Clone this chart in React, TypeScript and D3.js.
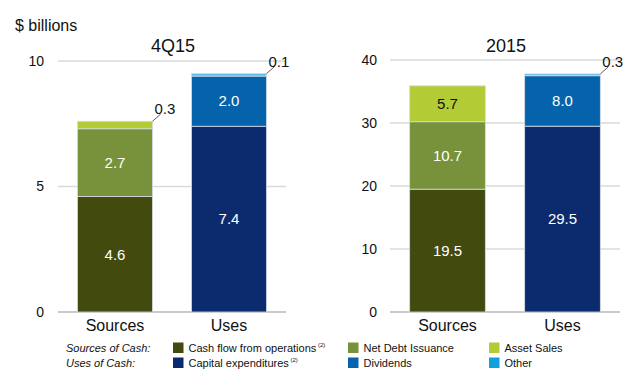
import React from "react";
import * as d3 from "d3";

const barCategories = ["Sources", "Uses"];
const sourceNames = ["Cash flow from operations", "Net Debt Issuance", "Asset Sales"];
const useNames = ["Capital expenditures", "Dividends", "Other"];
const sourceColors = ["#434a0e", "#77923a", "#b3cb35"];
const useColors = ["#0c2b6e", "#0563ac", "#10a0dc"];
const q4Sources = [4.6, 2.7, 0.3];
const q4Uses = [7.4, 2.0, 0.1];
const fySources = [19.5, 10.7, 5.7];
const fyUses = [29.5, 8.0, 0.3];
const q4Ticks = [0, 5, 10];
const fyTicks = [0, 10, 20, 30, 40];
const panelTitles = ["4Q15", "2015"];
const legendRowLabels = ["Sources of Cash:", "Uses of Cash:"];

const FONT = "'Liberation Sans', Arial, sans-serif";

type PanelProps = {
  title: string;
  sources: number[];
  uses: number[];
  ticks: number[];
  yMax: number;
  x0: number;
  x1: number;
  yTop: number;
  tickRight: number;
};

function Panel({ title, sources, uses, ticks, yMax, x0, x1, yTop, tickRight }: PanelProps) {
  const y = d3.scaleLinear().domain([0, yMax]).range([312, yTop]);
  const x = d3.scaleBand<string>().domain(barCategories).range([x0, x1]).paddingInner(0.342).paddingOuter(0.171);
  const bw = x.bandwidth();
  const stacks = [
    { cat: "Sources", vals: sources, colors: sourceColors },
    { cat: "Uses", vals: uses, colors: useColors },
  ];
  return (
    <g>
      {ticks.map((t) => (
        <g key={t}>
          <line x1={x0} x2={x1} y1={y(t)} y2={y(t)} stroke={t === 0 ? "#b8b8b8" : "#dadada"} strokeWidth={1.5} />
          <text x={tickRight} y={y(t)} dy="0.35em" textAnchor="end" fontSize={14} fill="#111">{t}</text>
        </g>
      ))}
      <text x={(x0 + x1) / 2 + 1} y={52} textAnchor="middle" fontSize={18} fill="#111">{title}</text>
      {stacks.map((s) => {
        let cum = 0;
        const bx = x(s.cat) as number;
        return (
          <g key={s.cat}>
            {s.vals.map((v, i) => {
              const yb = y(cum);
              cum += v;
              const yt = y(cum);
              const h = yb - yt;
              const small = h < 12;
              const textFill = s.colors[i] === "#b3cb35" ? "#111" : "#fff";
              return (
                <g key={i}>
                  <rect x={bx} y={yt} width={bw} height={h} fill={i === 2 && s.cat === "Uses" ? "#5cbde6" : s.colors[i]} stroke="#d4dbe6" strokeWidth={0.8} />
                  {!small && (
                    <text x={bx + bw / 2} y={(yt + yb) / 2} dy="0.35em" textAnchor="middle" fontSize={15} fill={textFill}>{v.toFixed(1)}</text>
                  )}
                  {small && (
                    <g>
                      <line x1={bx + bw} y1={yt} x2={bx + bw + 8} y2={yt - 7} stroke="#333" strokeWidth={0.8} />
                      <text x={bx + bw + 2} y={yt - 12} dy="0.35em" textAnchor="start" fontSize={15} fill="#111">{v.toFixed(1)}</text>
                    </g>
                  )}
                </g>
              );
            })}
            <text x={bx + bw / 2} y={325} dy="0.35em" textAnchor="middle" fontSize={16} fill="#111">{s.cat}</text>
          </g>
        );
      })}
    </g>
  );
}

export default function App() {
  const legendCols = [173, 348, 489];
  const rows = [
    { label: legendRowLabels[0], names: sourceNames, colors: sourceColors, y: 348 },
    { label: legendRowLabels[1], names: useNames, colors: useColors, y: 363 },
  ];
  return (
    <svg width={640} height={375} style={{ position: "absolute", left: 0, top: 0, background: "#fff" }} fontFamily={FONT}>
      <rect width={640} height={375} fill="#fff" />
      <text x={15} y={25} dy="0.35em" fontSize={16} fill="#111">$ billions</text>
      <Panel title={panelTitles[0]} sources={q4Sources} uses={q4Uses} ticks={q4Ticks} yMax={10} x0={58} x1={286} yTop={61} tickRight={44} />
      <Panel title={panelTitles[1]} sources={fySources} uses={fyUses} ticks={fyTicks} yMax={40} x0={390} x1={620} yTop={60} tickRight={377} />
      {rows.map((r, ri) => (
        <g key={ri}>
          <text x={66} y={r.y} dy="0.35em" fontSize={11} fontStyle="italic" fill="#111">{r.label}</text>
          {r.names.map((n, i) => (
            <g key={n}>
              <rect x={legendCols[i]} y={r.y - 5.5} width={10.5} height={10.5} fill={r.colors[i]} />
              <text x={legendCols[i] + 15.5} y={r.y} dy="0.35em" fontSize={11} fill="#111">
                {n}
                {i === 0 && <tspan fontSize={6} dy="-4.5"> (2)</tspan>}
              </text>
            </g>
          ))}
        </g>
      ))}
    </svg>
  );
}
